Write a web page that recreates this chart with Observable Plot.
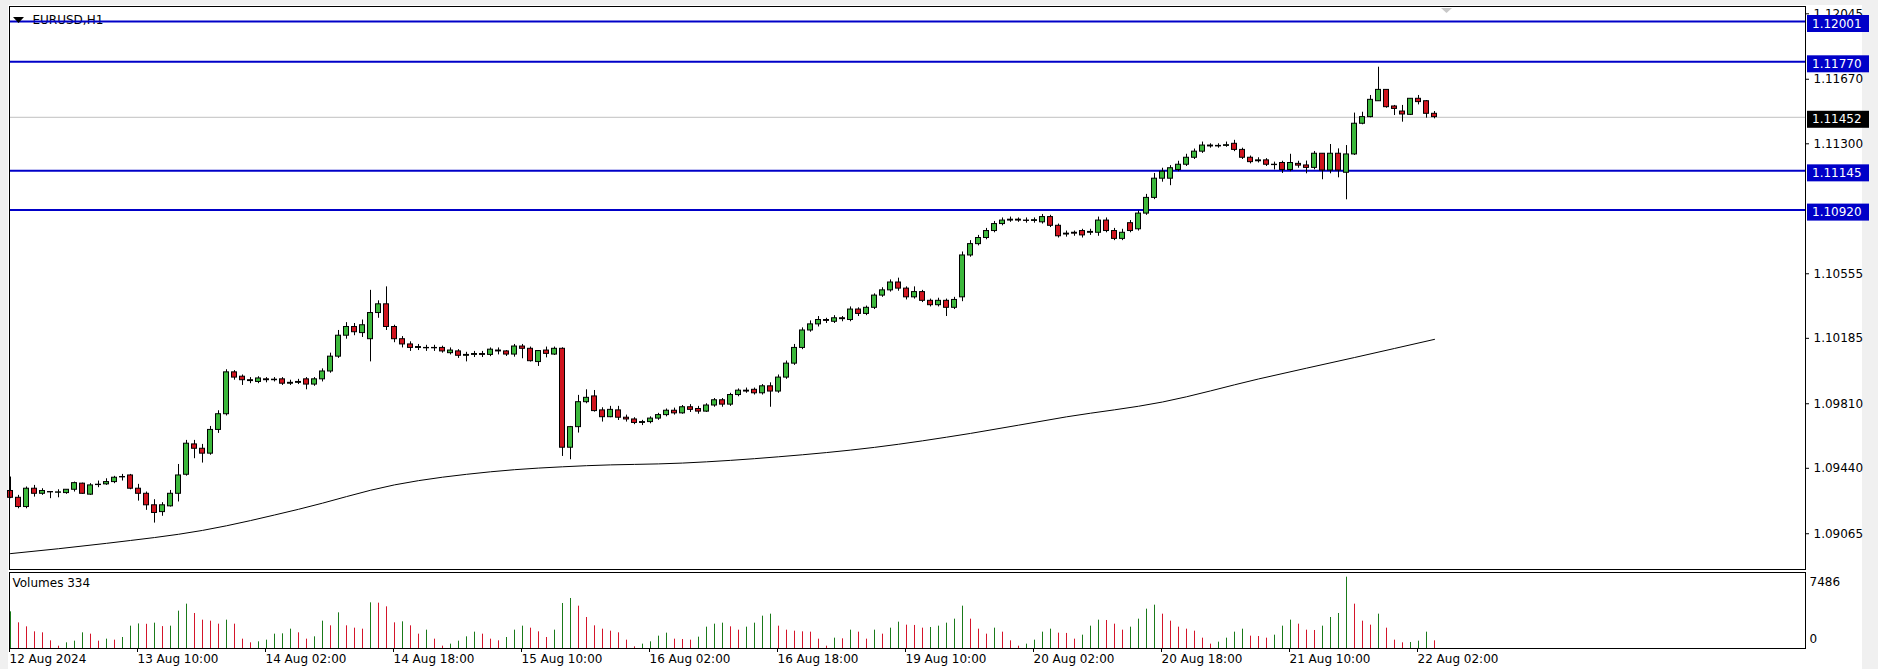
<!DOCTYPE html>
<html><head><meta charset="utf-8">
<script src="https://cdn.jsdelivr.net/npm/d3@7"></script>
<script src="https://cdn.jsdelivr.net/npm/@observablehq/plot@0.6"></script>
<style>
body{margin:0;background:#f0f0f0;width:1878px;height:669px;overflow:hidden;position:relative;font-family:"DejaVu Sans",sans-serif;}
#paper{position:absolute;left:8px;top:5px;width:1854px;height:664px;background:#fff;}
#main{position:absolute;left:0;top:0;}
#vol{position:absolute;left:0;top:570px;}
svg{overflow:visible}
</style></head><body>
<div id="paper"></div><div id="main"></div><div id="vol"></div>
<script>
// ---------- data (EURUSD H1, bar 0 = 12 Aug 18:00) ----------
const open = [1.09310,1.09271,1.09218,1.09323,1.09294,1.09304,1.09300,1.09298,1.09317,1.09352,1.09289,1.09346,1.09348,1.09361,1.09390,1.09399,1.09323,1.09294,1.09228,1.09189,
1.09222,1.09294,1.09403,1.09577,1.09552,1.09524,1.09660,1.09750,1.09990,1.09965,1.09945,1.09935,1.09950,1.09945,1.09950,1.09925,1.09930,1.09950,1.09920,1.09950,
1.09995,1.10080,1.10200,1.10250,1.10215,1.10180,1.10330,1.10380,1.10250,1.10180,1.10150,1.10130,1.10130,1.10128,1.10130,1.10100,1.10110,1.10085,1.10090,1.10095,
1.10090,1.10115,1.10110,1.10092,1.10138,1.10125,1.10049,1.10115,1.10092,1.10125,1.09558,1.09676,1.09819,1.09852,1.09772,1.09733,1.09772,1.09730,1.09720,1.09700,
1.09705,1.09725,1.09745,1.09770,1.09755,1.09790,1.09780,1.09765,1.09800,1.09830,1.09805,1.09860,1.09885,1.09890,1.09870,1.09910,1.09880,1.09960,1.10040,1.10130,
1.10230,1.10265,1.10290,1.10280,1.10300,1.10290,1.10350,1.10325,1.10360,1.10430,1.10460,1.10505,1.10470,1.10420,1.10450,1.10400,1.10375,1.10400,1.10360,1.10420,
1.10660,1.10725,1.10760,1.10800,1.10840,1.10860,1.10865,1.10860,1.10858,1.10850,1.10880,1.10830,1.10780,1.10790,1.10800,1.10790,1.10790,1.10860,1.10800,1.10755,
1.10845,1.10810,1.10900,1.10990,1.11100,1.11100,1.11150,1.11180,1.11220,1.11255,1.11290,1.11285,1.11288,1.11300,1.11265,1.11220,1.11200,1.11205,1.11180,1.11190,
1.11150,1.11185,1.11176,1.11162,1.11243,1.11147,1.11243,1.11134,1.11239,1.11415,1.11453,1.11544,1.11609,1.11514,1.11485,1.11466,1.11558,1.11544,1.11472];
const high = [1.09390,1.09285,1.09333,1.09342,1.09323,1.09306,1.09317,1.09317,1.09361,1.09355,1.09352,1.09367,1.09380,1.09394,1.09405,1.09405,1.09348,1.09304,1.09260,1.09243,
1.09313,1.09462,1.09600,1.09600,1.09577,1.09680,1.09770,1.10005,1.10000,1.09975,1.09960,1.09965,1.09960,1.09960,1.09960,1.09945,1.09950,1.09960,1.09960,1.10010,
1.10100,1.10230,1.10275,1.10270,1.10290,1.10460,1.10400,1.10480,1.10260,1.10195,1.10165,1.10150,1.10145,1.10145,1.10140,1.10130,1.10120,1.10105,1.10110,1.10110,
1.10130,1.10130,1.10115,1.10150,1.10150,1.10135,1.10115,1.10135,1.10135,1.10131,1.09680,1.09858,1.09890,1.09886,1.09787,1.09795,1.09795,1.09745,1.09730,1.09715,
1.09735,1.09755,1.09780,1.09785,1.09800,1.09805,1.09795,1.09810,1.09840,1.09840,1.09870,1.09895,1.09900,1.09900,1.09920,1.09930,1.09975,1.10055,1.10150,1.10245,
1.10285,1.10310,1.10300,1.10315,1.10310,1.10365,1.10360,1.10370,1.10440,1.10475,1.10520,1.10530,1.10480,1.10480,1.10460,1.10410,1.10415,1.10410,1.10420,1.10680,
1.10745,1.10775,1.10815,1.10855,1.10875,1.10880,1.10875,1.10875,1.10875,1.10895,1.10890,1.10840,1.10800,1.10800,1.10810,1.10810,1.10880,1.10875,1.10815,1.10810,
1.10860,1.10915,1.11010,1.11130,1.11160,1.11175,1.11200,1.11240,1.11270,1.11310,1.11300,1.11300,1.11310,1.11320,1.11275,1.11230,1.11220,1.11215,1.11195,1.11200,
1.11240,1.11200,1.11201,1.11256,1.11243,1.11296,1.11271,1.11290,1.11476,1.11481,1.11577,1.11739,1.11609,1.11520,1.11520,1.11558,1.11577,1.11548,1.11485];
const low = [1.09266,1.09208,1.09208,1.09275,1.09285,1.09266,1.09271,1.09291,1.09304,1.09291,1.09285,1.09329,1.09342,1.09352,1.09367,1.09317,1.09252,1.09199,1.09126,1.09165,
1.09218,1.09247,1.09395,1.09495,1.09470,1.09515,1.09640,1.09740,1.09945,1.09915,1.09925,1.09925,1.09930,1.09935,1.09915,1.09915,1.09920,1.09890,1.09910,1.09935,
1.09985,1.10070,1.10180,1.10200,1.10190,1.10050,1.10300,1.10230,1.10160,1.10130,1.10110,1.10115,1.10110,1.10110,1.10100,1.10090,1.10070,1.10050,1.10075,1.10075,
1.10080,1.10090,1.10081,1.10077,1.10068,1.10049,1.10024,1.10073,1.10087,1.09508,1.09489,1.09642,1.09810,1.09762,1.09705,1.09730,1.09714,1.09705,1.09690,1.09685,
1.09695,1.09715,1.09735,1.09745,1.09750,1.09760,1.09750,1.09760,1.09790,1.09790,1.09795,1.09850,1.09870,1.09860,1.09860,1.09790,1.09870,1.09950,1.10030,1.10120,
1.10220,1.10250,1.10270,1.10270,1.10280,1.10280,1.10310,1.10315,1.10350,1.10420,1.10450,1.10455,1.10405,1.10410,1.10390,1.10365,1.10365,1.10310,1.10350,1.10395,
1.10650,1.10715,1.10750,1.10790,1.10830,1.10850,1.10850,1.10845,1.10845,1.10840,1.10820,1.10760,1.10765,1.10770,1.10760,1.10775,1.10770,1.10790,1.10745,1.10745,
1.10790,1.10800,1.10890,1.10980,1.11080,1.11060,1.11140,1.11170,1.11210,1.11245,1.11275,1.11275,1.11280,1.11255,1.11210,1.11185,1.11190,1.11170,1.11150,1.11130,
1.11140,1.11160,1.11128,1.11151,1.11094,1.11128,1.11105,1.10979,1.11233,1.11409,1.11449,1.11544,1.11504,1.11462,1.11424,1.11462,1.11523,1.11447,1.11443];
const close = [1.09271,1.09218,1.09323,1.09294,1.09310,1.09302,1.09302,1.09317,1.09355,1.09294,1.09342,1.09344,1.09361,1.09386,1.09388,1.09323,1.09294,1.09228,1.09184,1.09228,
1.09294,1.09399,1.09581,1.09552,1.09524,1.09660,1.09750,1.09990,1.09960,1.09945,1.09940,1.09955,1.09945,1.09948,1.09925,1.09930,1.09935,1.09920,1.09950,1.09995,
1.10080,1.10200,1.10250,1.10220,1.10260,1.10330,1.10380,1.10250,1.10180,1.10150,1.10130,1.10135,1.10128,1.10130,1.10110,1.10115,1.10085,1.10090,1.10095,1.10090,
1.10120,1.10110,1.10092,1.10138,1.10125,1.10054,1.10112,1.10096,1.10125,1.09558,1.09676,1.09819,1.09844,1.09768,1.09733,1.09775,1.09730,1.09720,1.09700,1.09705,
1.09725,1.09745,1.09770,1.09755,1.09790,1.09775,1.09765,1.09800,1.09830,1.09805,1.09860,1.09885,1.09880,1.09870,1.09910,1.09880,1.09960,1.10040,1.10130,1.10230,
1.10265,1.10290,1.10285,1.10300,1.10295,1.10350,1.10325,1.10360,1.10430,1.10460,1.10505,1.10470,1.10420,1.10450,1.10400,1.10375,1.10400,1.10360,1.10405,1.10660,
1.10725,1.10760,1.10800,1.10840,1.10860,1.10865,1.10860,1.10858,1.10862,1.10880,1.10830,1.10770,1.10785,1.10785,1.10775,1.10795,1.10860,1.10800,1.10755,1.10790,
1.10800,1.10900,1.10990,1.11100,1.11140,1.11160,1.11180,1.11220,1.11255,1.11290,1.11285,1.11288,1.11292,1.11265,1.11220,1.11195,1.11205,1.11180,1.11178,1.11150,
1.11190,1.11175,1.11162,1.11243,1.11147,1.11243,1.11147,1.11239,1.11415,1.11453,1.11552,1.11609,1.11510,1.11500,1.11468,1.11558,1.11539,1.11472,1.11453];
const volume = [3850,2695,2275,1750,1645,805,245,595,770,1645,1505,770,980,875,1155,2345,2580,2540,2660,2300,
2345,3920,4655,3675,2975,2870,2555,2975,2555,980,595,700,875,1505,1540,2030,1645,980,1225,2870,
2380,3745,2380,2135,2030,4795,4760,4375,2695,2800,2380,1505,1925,980,245,455,770,1225,1715,1505,
980,805,1155,1925,2345,2135,1750,1155,1925,4725,5250,4445,3255,2380,2030,1820,1645,875,175,455,
700,1295,1610,980,945,875,1190,2240,2555,2660,2275,1925,2240,2660,3395,3605,2345,1925,1820,1750,
1715,980,245,1085,1015,1925,1715,980,1925,1505,2135,2765,2450,2420,2135,2205,2345,2660,3080,4445,
3080,2030,1505,2135,1715,805,245,455,875,1715,2030,1610,1580,980,1400,2345,2975,2940,2555,1925,
2240,3080,4130,4550,3605,2870,2240,2030,1820,1085,455,665,1085,1715,2030,1295,1260,1085,1400,2345,
2975,2555,1925,1890,2345,3255,3675,7486,4655,2870,2450,3605,2135,875,595,630,770,1715,805];
const maBar   = [0,12,24,36,48,60,72,84,96,108,120,132,144,156,168,178];
const maValue = [1.08951,1.09010,1.09084,1.09205,1.09345,1.09420,1.09455,1.09470,1.09506,1.09560,1.09640,1.09735,1.09820,1.09952,1.10075,1.10179];
const levels = [1.12001, 1.11770, 1.11145, 1.10920];
const bid = 1.11452;
const priceTicks = [1.12045, 1.11670, 1.11300, 1.10555, 1.10185, 1.09810, 1.09440, 1.09065];
const timeTickBars = [0,16,32,48,64,80,96,112,128,144,160,176];
const timeTickLabels = ["12 Aug 2024","13 Aug 10:00","14 Aug 02:00","14 Aug 18:00","15 Aug 10:00","16 Aug 02:00","16 Aug 18:00","19 Aug 10:00","20 Aug 02:00","20 Aug 18:00","21 Aug 10:00","22 Aug 02:00"];
const volMaxLabel = 7486;

// ---------- tables ----------
const candles = open.map((o, i) => ({i, o, h: high[i], l: low[i], c: close[i]}));
const vols = volume.map((v, i) => ({i, v, up: i === 0 || v > volume[i - 1]}));
const ma = maBar.map((b, k) => ({i: b, v: maValue[k]}));
const tickLabel = new Map(timeTickBars.map((b, k) => [b, timeTickLabels[k]]));

const GREEN = "#3cb83c", RED = "#d0141e", VGREEN = "#1a7a1a", VRED = "#d4152a", BLUE = "#0000c8";
const W = 1878;
const xDomain = [-0.125, 224.375];
const font = {fontFamily: "DejaVu Sans", fontSize: "12px", background: "transparent", color: "#000"};

const main = Plot.plot({
  width: W, height: 570, marginLeft: 9, marginRight: 73, marginTop: 6, marginBottom: 1,
  style: font,
  x: {domain: xDomain, axis: null},
  y: {domain: [1.08860, 1.12087], axis: null},
  marks: [
    Plot.text(["EURUSD,H1"], {text: d => d, frameAnchor: "top-left", dx: 23, dy: 14, lineAnchor: "middle", textAnchor: "start", fill: "#000"}),
    Plot.ruleY([bid], {stroke: "#c0c0c0", strokeWidth: 1}),
    Plot.ruleY(levels, {stroke: BLUE, strokeWidth: 2}),
    Plot.line(ma, {x: "i", y: "v", stroke: "#000", strokeWidth: 1, curve: "monotone-x"}),
    Plot.ruleX(candles, {x: "i", y1: "l", y2: "h", stroke: "#000", strokeWidth: 1}),
    Plot.rect(candles, {x1: d => d.i - 0.3125, x2: d => d.i + 0.3125, y1: "o", y2: "c",
      fill: d => d.c >= d.o ? GREEN : RED, stroke: "#000", strokeWidth: 1}),
    Plot.frame({stroke: "#000"}),
    Plot.axisY({anchor: "right", ticks: priceTicks, tickFormat: d => d.toFixed(5), tickSize: 3, tickPadding: 5, fill: "#000", label: null})
  ]
});
document.getElementById("main").appendChild(main);

// price labels for the horizontal levels and the bid line
const ys = main.scale("y");
const svgM = d3.select(main);
const lab = svgM.append("g").attr("font-family", "DejaVu Sans").attr("font-size", 12).attr("text-anchor", "start");
[...levels.map(v => [v, BLUE]), [bid, "#000"]].forEach(([v, fill]) => {
  const yy = ys.apply(v);
  lab.append("rect").attr("x", 1807).attr("y", yy - 6).attr("width", 62).attr("height", 17).attr("fill", fill);
  lab.append("text").attr("x", 1812).attr("y", yy + 2.5).attr("dy", "0.35em").attr("text-anchor", "start").attr("fill", "#fff").text(v.toFixed(5));
});
// window decorations
svgM.append("path").attr("d", "M13,17 L24,17 L18.5,23 Z").attr("fill", "#000");
svgM.append("path").attr("d", "M1441,8 L1452,8 L1446.5,13 Z").attr("fill", "#c8c8c8");

const vol = Plot.plot({
  width: W, height: 99, marginLeft: 9, marginRight: 73, marginTop: 2, marginBottom: 21,
  style: font,
  x: {domain: xDomain, axis: null},
  y: {domain: [0, volMaxLabel * 76 / 71.3], axis: null},
  marks: [
    Plot.ruleX(vols, {x: "i", y1: 0, y2: "v", stroke: d => d.up ? VGREEN : VRED, strokeWidth: 1}),
    Plot.frame({stroke: "#000"}),
    Plot.axisX({ticks: timeTickBars, tickFormat: d => tickLabel.get(d), tickSize: 4, tickPadding: 2, textAnchor: "start", dx: -1, fill: "#000", label: null}),
    Plot.text([volMaxLabel], {x: xDomain[1], y: d => d, text: d => String(d), dx: 4, dy: 5, textAnchor: "start", fill: "#000"}),
    Plot.text([0], {x: xDomain[1], y: d => d, text: d => String(d), dx: 4, dy: -9, textAnchor: "start", fill: "#000"}),
    Plot.text(["Volumes 334"], {text: d => d, frameAnchor: "top-left", dx: 3, dy: 11, lineAnchor: "middle", textAnchor: "start", fill: "#000"})
  ]
});
document.getElementById("vol").appendChild(vol);
</script>
</body></html>
